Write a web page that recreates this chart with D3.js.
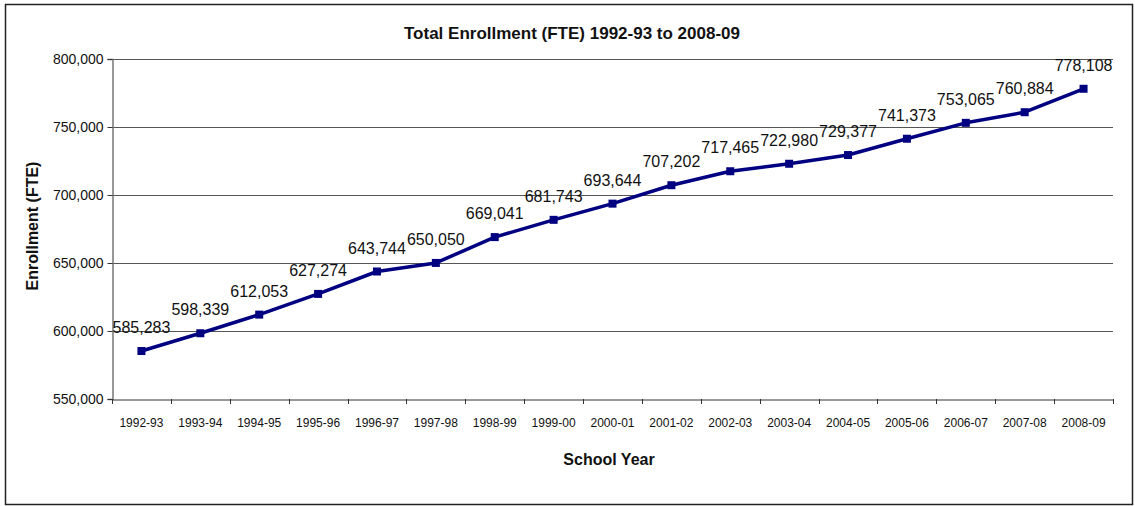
<!DOCTYPE html>
<html><head><meta charset="utf-8">
<script src="https://cdn.jsdelivr.net/npm/d3@7"></script>
<style>body{margin:0;background:#fff}svg{display:block}text{font-family:"Liberation Sans",Arial,sans-serif}</style>
</head><body><svg id="c" width="1135" height="506"></svg>
<script>
const categories = ["1992-93","1993-94","1994-95","1995-96","1996-97","1997-98","1998-99","1999-00","2000-01","2001-02","2002-03","2003-04","2004-05","2005-06","2006-07","2007-08","2008-09"];
const enrollment = [585283,598339,612053,627274,643744,650050,669041,681743,693644,707202,717465,722980,729377,741373,753065,760884,778108];
const yTicks = [550000,600000,650000,700000,750000,800000];

const svg = d3.select("#c");
const m = {left:112, right:1113, top:59, bottom:399};

svg.append("rect").attr("x",5.5).attr("y",4.5).attr("width",1127).attr("height",500)
  .attr("fill","#fff").attr("stroke","#222").attr("stroke-width",1.5);

const x = d3.scaleBand().domain(categories).range([m.left,m.right]);
const y = d3.scaleLinear().domain([550000,800000]).range([m.bottom,m.top]);
const fmt = d3.format(",");

// gridlines
svg.append("g").selectAll("line").data(yTicks.filter(d=>d>550000)).join("line")
  .attr("x1",m.left).attr("x2",m.right).attr("y1",d=>Math.round(y(d))+0.5).attr("y2",d=>Math.round(y(d))+0.5)
  .attr("stroke","#555").attr("stroke-width",1);

// y axis
const ya = svg.append("g").attr("transform",`translate(${m.left+0.5},0)`)
  .call(d3.axisLeft(y).tickValues(yTicks).tickFormat(fmt).tickSize(5).tickPadding(4));
ya.select(".domain").attr("stroke","#777").attr("stroke-width",1.5);
ya.selectAll(".tick line").attr("stroke","#333");
ya.selectAll("text").attr("font-size",14).attr("fill","#111").attr("font-family","Liberation Sans, Arial");

// x axis
const xa = svg.append("g").attr("transform",`translate(0,${m.bottom+0.5})`)
  .call(d3.axisBottom(x).tickSize(0).tickPadding(19));
xa.select(".domain").attr("stroke","#333").attr("stroke-width",1);
xa.selectAll("text").attr("font-size",12).attr("fill","#111").attr("font-family","Liberation Sans, Arial");
// tick marks between categories
const bounds = categories.map(c=>x(c)).concat([m.right]);
svg.append("g").selectAll("line").data(bounds).join("line")
  .attr("x1",d=>Math.round(d)+0.5).attr("x2",d=>Math.round(d)+0.5)
  .attr("y1",m.bottom).attr("y2",m.bottom+5).attr("stroke","#333");

// line
const cx = d=>x(d)+x.bandwidth()/2;
const line = d3.line().x((d,i)=>cx(categories[i])).y(d=>y(d));
svg.append("path").datum(enrollment).attr("d",line).attr("fill","none")
  .attr("stroke","#000080").attr("stroke-width",3.5).attr("stroke-linejoin","round");
svg.append("g").selectAll("rect").data(enrollment).join("rect")
  .attr("x",(d,i)=>cx(categories[i])-4).attr("y",d=>y(d)-4).attr("width",8).attr("height",8)
  .attr("fill","#000080");

// data labels
svg.append("g").selectAll("text").data(enrollment).join("text")
  .attr("x",(d,i)=>cx(categories[i])).attr("y",d=>y(d)-18)
  .attr("text-anchor","middle").attr("font-size",16).attr("fill","#111")
  .text(d=>fmt(d));

// titles
svg.append("text").attr("x",572).attr("y",39).attr("text-anchor","middle")
  .attr("font-size",17).attr("font-weight","bold").attr("fill","#111")
  .text("Total Enrollment (FTE) 1992-93 to 2008-09");
svg.append("text").attr("x",609).attr("y",465).attr("text-anchor","middle")
  .attr("font-size",16).attr("font-weight","bold").attr("fill","#111").text("School Year");
svg.append("text").attr("transform",`translate(38,226) rotate(-90)`)
  .attr("text-anchor","middle").attr("font-size",16).attr("font-weight","bold").attr("fill","#111")
  .text("Enrollment (FTE)");
</script></body></html>
